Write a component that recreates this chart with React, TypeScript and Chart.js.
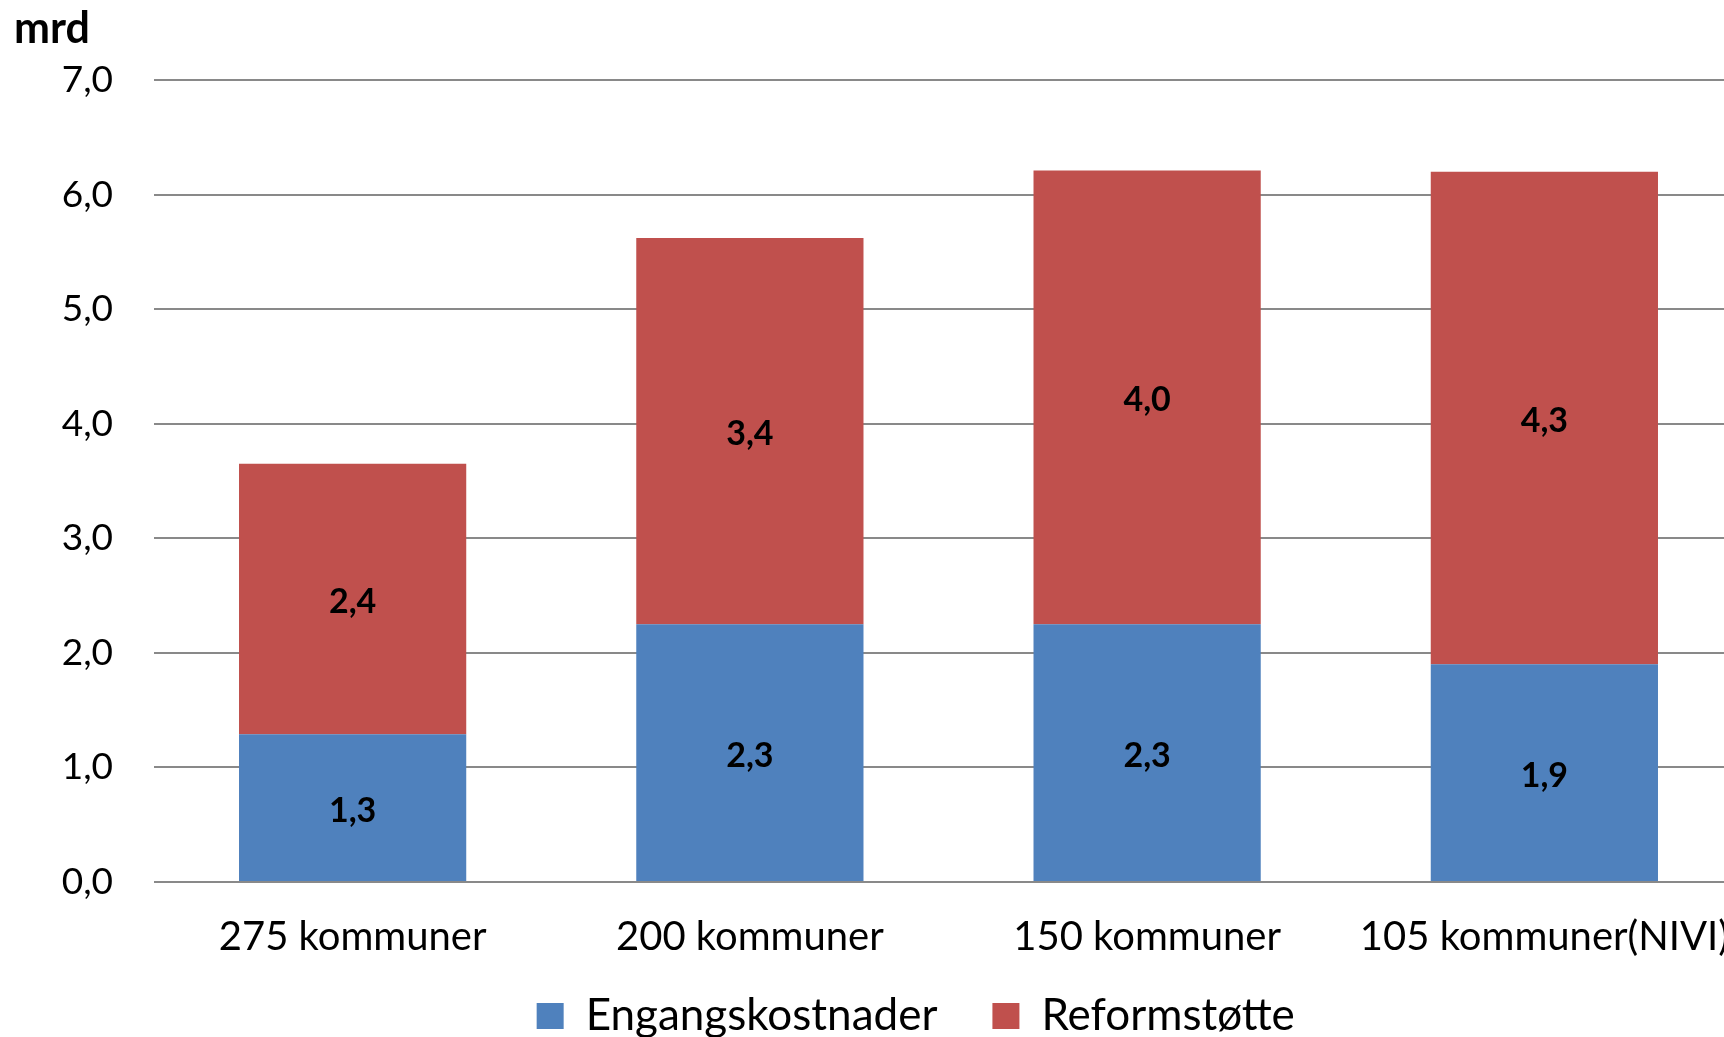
import React, { useEffect, useRef } from 'react';
import { Chart, registerables } from 'chart.js';

Chart.register(...registerables);

const categories = ['275 kommuner', '200 kommuner', '150 kommuner', '105 kommuner(NIVI)'];
const engangskostnader = [1.29, 2.25, 2.25, 1.9];
const reformstotte = [2.36, 3.37, 3.96, 4.3];
const seriesNames = ['Engangskostnader', 'Reformstøtte'];
const seriesColors = ['#4F81BD', '#C0504D'];
const yMin = 0;
const yMax = 7;
const yStep = 1;
const unitLabel = 'mrd';

const FONT = 'Lato, "Open Sans", "DejaVu Sans", sans-serif';
const LEGEND_PAD = 55;
const LEGEND_FONT = 44;

const fmt = (v: number) => v.toFixed(1).replace('.', ',');

const valueLabels = {
  id: 'valueLabels',
  afterDatasetsDraw(chart: any) {
    const ctx = chart.ctx;
    ctx.save();
    ctx.font = `bold 34px ${FONT}`;
    ctx.fillStyle = '#000';
    ctx.textAlign = 'center';
    ctx.textBaseline = 'middle';
    chart.data.datasets.forEach((ds: any, di: number) => {
      const meta = chart.getDatasetMeta(di);
      meta.data.forEach((el: any, i: number) => {
        const v = ds.data[i] as number;
        const cy = (el.y + el.base) / 2 + 3;
        ctx.fillText(fmt(v), el.x, cy);
      });
    });
    ctx.restore();
  },
};

const unitTitle = {
  id: 'unitTitle',
  afterDraw(chart: any) {
    const ctx = chart.ctx;
    ctx.save();
    ctx.font = `bold 43px ${FONT}`;
    ctx.fillStyle = '#000';
    ctx.textAlign = 'left';
    ctx.textBaseline = 'alphabetic';
    ctx.fillText(unitLabel, 14, 43);
    ctx.restore();
  },
};

// place the legend box: its band starts a little right of the canvas edge,
// and its row sits centred at y≈1016
const legendPlacement = {
  id: 'legendPlacement',
  afterLayout(chart: any) {
    const lg = chart.legend;
    if (!lg) return;
    lg.left = 88.5;
    lg.right = chart.width;
    lg.width = lg.right - lg.left;
    lg.top = 1016 - LEGEND_PAD - LEGEND_FONT / 2;
    lg.bottom = lg.top + lg.height;
  },
};

export default function App() {
  const ref = useRef<HTMLCanvasElement | null>(null);

  useEffect(() => {
    let chart: Chart | null = null;
    let cancelled = false;
    const make = () => {
      if (cancelled || !ref.current) return;
      chart = new Chart(ref.current, {
        type: 'bar',
        data: {
          labels: categories,
          datasets: [
            {
              label: seriesNames[0],
              data: engangskostnader,
              backgroundColor: seriesColors[0],
              borderWidth: 0,
              categoryPercentage: 0.572,
              barPercentage: 1,
            },
            {
              label: seriesNames[1],
              data: reformstotte,
              backgroundColor: seriesColors[1],
              borderWidth: 0,
              categoryPercentage: 0.572,
              barPercentage: 1,
            },
          ],
        },
        options: {
          animation: false,
          responsive: true,
          maintainAspectRatio: false,
          layout: { padding: { left: 0, top: 80, right: 0, bottom: 0 } },
          plugins: {
            legend: {
              position: 'bottom',
              align: 'center',
              labels: {
                boxWidth: 27,
                boxHeight: 26,
                padding: LEGEND_PAD,
                color: '#000',
                font: { family: FONT, size: LEGEND_FONT },
              },
            },
            tooltip: { enabled: false },
          },
          scales: {
            x: {
              stacked: true,
              grid: { display: false, drawTicks: false },
              border: { display: false },
              ticks: {
                color: '#000',
                padding: 0,
                maxRotation: 0,
                autoSkip: false,
                font: { family: FONT, size: 40, lineHeight: 2.75 },
              },
              afterFit: (s: any) => {
                s.height = 110;
              },
            },
            y: {
              stacked: true,
              min: yMin,
              max: yMax,
              grid: { color: '#898989', lineWidth: 2, drawTicks: false },
              border: { display: false },
              ticks: {
                stepSize: yStep,
                color: '#000',
                padding: 41,
                font: { family: FONT, size: 37 },
                callback: (v: any) => fmt(Number(v)),
              },
              afterFit: (s: any) => {
                s.width = 154;
              },
            },
          },
        },
        plugins: [valueLabels, unitTitle, legendPlacement],
      });
    };
    const fontsReady = (document as any).fonts
      ? Promise.all([
          (document as any).fonts.load(`40px Lato`),
          (document as any).fonts.load(`bold 40px Lato`),
        ]).catch(() => null)
      : Promise.resolve(null);
    fontsReady.then(make);
    return () => {
      cancelled = true;
      if (chart) chart.destroy();
    };
  }, []);

  return (
    <div
      style={{
        position: 'fixed',
        left: 0,
        top: 0,
        width: 1724,
        height: 1037,
        overflow: 'hidden',
        background: '#fff',
      }}
    >
      <div style={{ position: 'absolute', left: 0, top: 0, width: 1743, height: 1101 }}>
        <canvas ref={ref} />
      </div>
    </div>
  );
}
